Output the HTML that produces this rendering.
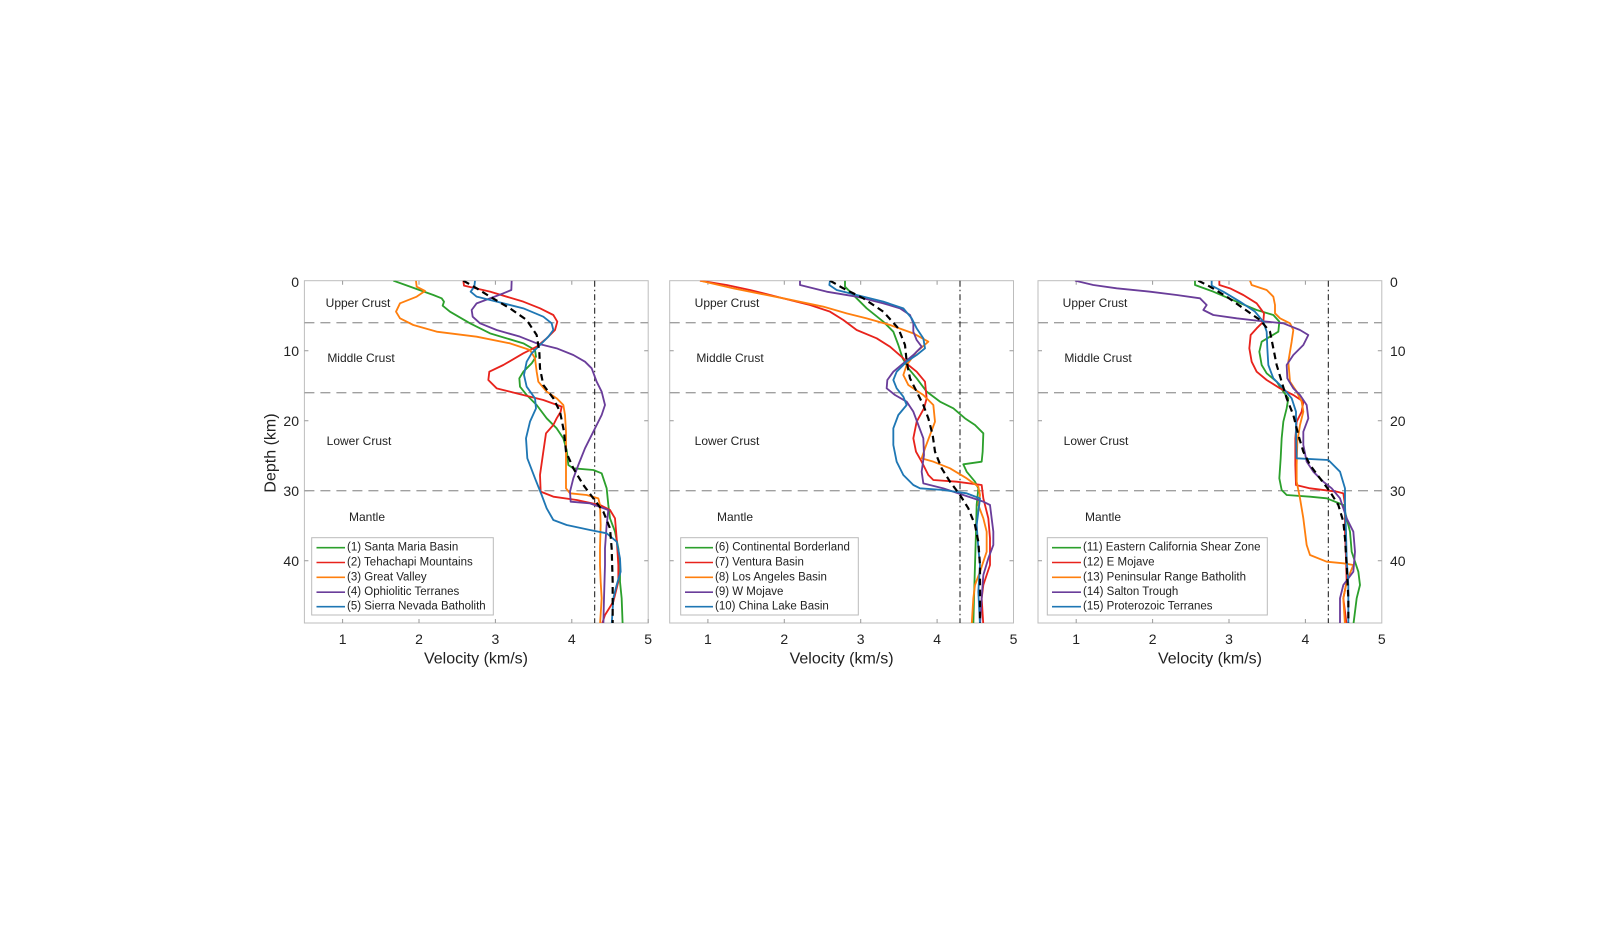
<!DOCTYPE html>
<html><head><meta charset="utf-8"><style>
html,body{margin:0;padding:0;background:#fff;}
svg text{font-family:"Liberation Sans",sans-serif;fill:#222;}
</style></head><body>
<svg width="1600" height="938" viewBox="0 0 1600 938" xmlns="http://www.w3.org/2000/svg">
<defs>
<clipPath id="c1"><rect x="304.4" y="280.7" width="343.8" height="342.3"/></clipPath>
<clipPath id="c2"><rect x="669.7" y="280.7" width="343.8" height="342.3"/></clipPath>
<clipPath id="c3"><rect x="1038" y="280.7" width="343.8" height="342.3"/></clipPath>
</defs>

<g fill="none" stroke="#bdbdbd" stroke-width="1">
<rect x="304.4" y="280.7" width="343.8" height="342.3"/>
<rect x="669.7" y="280.7" width="343.8" height="342.3"/>
<rect x="1038" y="280.7" width="343.8" height="342.3"/>
</g>
<g stroke="#999" stroke-width="1">
<path d="M342.6,623v-4M419,623v-4M495.4,623v-4M571.8,623v-4M648.2,623v-4M342.6,280.7v4M419,280.7v4M495.4,280.7v4M571.8,280.7v4
M304.4,350.7h4M304.4,420.7h4M304.4,490.7h4M304.4,560.7h4M648.2,350.7h-4M648.2,420.7h-4M648.2,490.7h-4M648.2,560.7h-4"/>
<path transform="translate(365.3,0)" d="M342.6,623v-4M419,623v-4M495.4,623v-4M571.8,623v-4M342.6,280.7v4M419,280.7v4M495.4,280.7v4M571.8,280.7v4
M304.4,350.7h4M304.4,420.7h4M304.4,490.7h4M304.4,560.7h4M648.2,350.7h-4M648.2,420.7h-4M648.2,490.7h-4M648.2,560.7h-4"/>
<path transform="translate(733.6,0)" d="M342.6,623v-4M419,623v-4M495.4,623v-4M571.8,623v-4M342.6,280.7v4M419,280.7v4M495.4,280.7v4M571.8,280.7v4
M304.4,350.7h4M304.4,420.7h4M304.4,490.7h4M304.4,560.7h4M648.2,350.7h-4M648.2,420.7h-4M648.2,490.7h-4M648.2,560.7h-4"/>
</g>

<g stroke="#a0a0a0" stroke-width="1.3" stroke-dasharray="10,6" fill="none">
<path d="M304.4,322.7h343.8M304.4,392.7h343.8M304.4,490.7h343.8"/>
<path d="M669.7,322.7h343.8M669.7,392.7h343.8M669.7,490.7h343.8"/>
<path d="M1038,322.7h343.8M1038,392.7h343.8M1038,490.7h343.8"/>
</g>
<g stroke="#111" stroke-width="1" stroke-dasharray="6,3,1.5,3" fill="none">
<path d="M594.7,280.7V623M960,280.7V623M1328.3,280.7V623"/>
</g>

<g clip-path="url(#c1)"><g transform="translate(290,265) scale(0.33333)" fill="none" stroke-width="5.5" stroke-linejoin="round">
<polyline stroke="#2ca02c" points="310,47 360,65 430,90 455,100 462,110 458,122 480,140 540,175 600,205 700,235 735,255 738,275 725,295 700,320 688,340 690,365 710,390 740,420 770,460 800,490 820,520 830,555 835,600 850,610 910,615 935,625 950,670 955,720 960,760 975,800 985,850 990,900 990,950 995,1000 998,1080"/>
<polyline stroke="#e8231c" points="520,47 522,62 600,80 700,110 750,130 790,150 802,170 795,195 770,220 740,245 700,265 640,300 598,320 595,345 620,370 680,385 760,405 815,425 812,440 800,460 790,480 768,505 760,560 750,630 752,680 790,695 860,705 930,720 960,735 975,760 980,820 985,900 985,950 970,1010 945,1050 935,1080"/>
<polyline stroke="#ff7f0e" points="378,47 380,65 405,78 380,95 330,115 318,140 330,160 370,180 440,200 560,215 660,235 720,255 735,280 740,320 745,350 770,380 800,400 820,420 825,450 828,500 828,560 828,600 828,670 840,685 890,690 925,700 930,720 932,780 930,850 930,900 932,950 935,1000 930,1080"/>
<polyline stroke="#6a3d9a" points="665,47 664,75 640,85 560,115 545,135 548,155 570,175 620,195 690,215 740,235 800,250 850,270 885,290 905,310 920,350 935,380 945,420 935,450 910,500 885,550 865,600 850,640 840,680 842,710 900,715 955,735 950,780 945,850 945,900 942,1000 940,1080"/>
<polyline stroke="#1f77b4" points="555,47 553,65 542,80 560,95 620,110 700,130 760,155 785,175 790,195 775,215 750,240 725,265 710,290 702,330 710,365 735,400 738,430 720,470 708,520 712,580 735,640 755,690 770,730 790,765 830,780 900,795 950,805 980,830 990,880 992,920 980,960 970,1000 965,1080"/>
<polyline stroke="#000" stroke-width="6.5" stroke-dasharray="20,13" points="520,47 560,70 600,95 660,130 710,165 740,210 748,260 750,310 760,360 790,400 810,440 822,500 828,560 850,610 880,660 910,700 940,740 960,790 965,850 968,950 968,1080"/>
</g></g>

<g clip-path="url(#c2)"><g transform="translate(650,265) scale(0.33333)" fill="none" stroke-width="5.5" stroke-linejoin="round">
<polyline stroke="#2ca02c" points="585,47 585,65 620,100 650,130 700,170 730,200 745,240 758,280 775,310 800,340 830,380 870,410 910,430 945,460 975,480 1000,505 998,560 995,590 940,598 950,620 975,650 985,670 980,720 978,800 975,900 972,1000 970,1080"/>
<polyline stroke="#e8231c" points="150,47 230,60 300,75 400,100 480,120 540,140 580,165 620,195 680,220 720,245 760,280 775,300 800,320 825,350 830,400 822,430 800,470 790,520 798,560 815,590 835,630 850,645 920,650 995,660 1000,700 1015,760 1020,820 1020,900 1000,960 995,1000 1000,1080"/>
<polyline stroke="#ff7f0e" points="150,47 250,70 400,100 520,125 590,145 650,160 720,180 790,205 835,230 800,260 770,300 760,330 775,360 820,390 850,420 855,470 840,510 825,550 815,580 850,590 900,610 950,640 985,665 990,690 985,720 1000,760 1010,800 1010,860 990,920 975,960 970,1000 965,1080"/>
<polyline stroke="#6a3d9a" points="450,47 450,60 530,80 620,95 700,115 750,130 780,150 790,175 790,200 800,225 815,245 790,270 760,295 730,320 712,345 710,370 735,390 770,410 790,440 805,480 820,520 822,570 815,620 820,655 880,670 940,690 1000,710 1020,720 1025,760 1030,800 1030,840 1015,880 1000,930 995,1000 990,1080"/>
<polyline stroke="#1f77b4" points="540,47 538,60 560,75 620,90 700,110 760,130 785,160 800,190 820,220 825,250 800,270 770,290 740,320 730,345 740,370 760,395 770,420 745,450 730,490 730,540 740,590 760,630 790,660 810,670 880,675 950,685 990,700 985,740 980,780 985,850 990,900 985,980 990,1080"/>
<polyline stroke="#000" stroke-width="6.5" stroke-dasharray="20,13" points="540,47 580,70 640,100 700,140 745,190 765,240 770,290 780,340 800,380 820,420 835,460 848,510 855,560 875,610 900,650 930,690 955,730 975,780 985,830 990,900 990,1080"/>
</g></g>

<g clip-path="url(#c3)"><g transform="translate(1010,265) scale(0.33333)" fill="none" stroke-width="5.5" stroke-linejoin="round">
<polyline stroke="#2ca02c" points="555,47 555,60 610,80 680,110 740,135 790,150 808,170 805,200 780,215 755,230 748,260 755,300 770,325 800,350 820,380 835,400 830,430 820,470 815,520 812,580 808,640 815,675 830,690 900,695 950,700 1000,720 1010,760 1020,800 1025,860 1045,920 1050,960 1040,1000 1030,1080"/>
<polyline stroke="#e8231c" points="628,47 628,60 660,70 700,90 740,115 762,145 760,170 740,190 722,210 718,250 725,290 740,320 770,345 810,370 850,390 880,410 875,440 860,470 856,520 856,600 858,660 900,670 980,680 1000,685 1005,720 1005,800 1008,880 1010,950 1000,1000 1010,1080"/>
<polyline stroke="#ff7f0e" points="720,47 725,60 770,75 790,95 795,120 795,145 810,160 840,175 850,195 845,230 835,290 840,350 860,380 875,410 880,440 870,480 862,530 860,600 860,650 870,700 880,760 890,840 900,870 950,890 1000,895 1030,900 1010,950 1000,1000 1005,1080"/>
<polyline stroke="#6a3d9a" points="195,47 250,60 320,70 420,80 500,90 570,100 590,120 580,135 610,150 680,160 750,168 820,175 870,195 895,210 880,240 850,270 830,300 832,340 850,370 870,390 890,420 895,460 880,500 880,540 890,590 910,620 940,650 965,670 990,700 1010,760 1030,800 1035,860 1030,920 1000,960 990,1000 990,1080"/>
<polyline stroke="#1f77b4" points="605,47 605,62 640,80 690,110 735,140 760,170 770,200 772,250 775,300 790,340 820,370 845,400 858,440 858,500 860,580 955,585 990,620 1005,670 1005,720 1008,800 1010,880 1015,960 1015,1080"/>
<polyline stroke="#000" stroke-width="6.5" stroke-dasharray="20,13" points="565,47 600,65 650,95 700,130 750,165 780,200 790,250 800,300 815,350 830,400 850,450 865,510 880,560 900,600 930,640 960,680 985,720 1000,770 1005,820 1010,900 1015,1000 1015,1080"/>
</g></g>

<g font-size="12" text-anchor="middle" dominant-baseline="central">
<text x="358" y="303">Upper Crust</text><text x="361" y="358">Middle Crust</text><text x="359" y="441">Lower Crust</text><text x="367" y="517">Mantle</text>
<text x="727" y="303">Upper Crust</text><text x="730" y="358">Middle Crust</text><text x="727" y="441">Lower Crust</text><text x="735" y="517">Mantle</text>
<text x="1095" y="303">Upper Crust</text><text x="1098" y="358">Middle Crust</text><text x="1096" y="441">Lower Crust</text><text x="1103" y="517">Mantle</text>
</g>

<g font-size="11.5" dominant-baseline="central">
<rect x="311.7" y="537.7" width="181.6" height="77.3" fill="#fff" stroke="#bbb"/>
<g stroke-width="1.6">
<line x1="316.5" x2="345" y1="547.7" y2="547.7" stroke="#2ca02c"/><line x1="316.5" x2="345" y1="562.5" y2="562.5" stroke="#e8231c"/><line x1="316.5" x2="345" y1="577.3" y2="577.3" stroke="#ff7f0e"/><line x1="316.5" x2="345" y1="592.2" y2="592.2" stroke="#6a3d9a"/><line x1="316.5" x2="345" y1="606.7" y2="606.7" stroke="#1f77b4"/>
</g>
<text x="347" y="547.7">(1) Santa Maria Basin</text><text x="347" y="562.5">(2) Tehachapi Mountains</text><text x="347" y="577.3">(3) Great Valley</text><text x="347" y="592.2">(4) Ophiolitic Terranes</text><text x="347" y="606.7">(5) Sierra Nevada Batholith</text>

<rect x="680.7" y="537.7" width="177.6" height="77.3" fill="#fff" stroke="#bbb"/>
<g stroke-width="1.6">
<line x1="685" x2="713" y1="547.7" y2="547.7" stroke="#2ca02c"/><line x1="685" x2="713" y1="562.5" y2="562.5" stroke="#e8231c"/><line x1="685" x2="713" y1="577.3" y2="577.3" stroke="#ff7f0e"/><line x1="685" x2="713" y1="592.2" y2="592.2" stroke="#6a3d9a"/><line x1="685" x2="713" y1="606.7" y2="606.7" stroke="#1f77b4"/>
</g>
<text x="715" y="547.7">(6) Continental Borderland</text><text x="715" y="562.5">(7) Ventura Basin</text><text x="715" y="577.3">(8) Los Angeles Basin</text><text x="715" y="592.2">(9) W Mojave</text><text x="715" y="606.7">(10) China Lake Basin</text>

<rect x="1047.3" y="537.7" width="220" height="77.3" fill="#fff" stroke="#bbb"/>
<g stroke-width="1.6">
<line x1="1052" x2="1081" y1="547.7" y2="547.7" stroke="#2ca02c"/><line x1="1052" x2="1081" y1="562.5" y2="562.5" stroke="#e8231c"/><line x1="1052" x2="1081" y1="577.3" y2="577.3" stroke="#ff7f0e"/><line x1="1052" x2="1081" y1="592.2" y2="592.2" stroke="#6a3d9a"/><line x1="1052" x2="1081" y1="606.7" y2="606.7" stroke="#1f77b4"/>
</g>
<text x="1083" y="547.7">(11) Eastern California Shear Zone</text><text x="1083" y="562.5">(12) E Mojave</text><text x="1083" y="577.3">(13) Peninsular Range Batholith</text><text x="1083" y="592.2">(14) Salton Trough</text><text x="1083" y="606.7">(15) Proterozoic Terranes</text>
</g>

<g font-size="14" text-anchor="middle" dominant-baseline="central">
<text x="342.6" y="639">1</text><text x="419" y="639">2</text><text x="495.4" y="639">3</text><text x="571.8" y="639">4</text><text x="648.2" y="639">5</text>
<text x="707.9" y="639">1</text><text x="784.3" y="639">2</text><text x="860.7" y="639">3</text><text x="937.1" y="639">4</text><text x="1013.5" y="639">5</text>
<text x="1076.2" y="639">1</text><text x="1152.6" y="639">2</text><text x="1229" y="639">3</text><text x="1305.4" y="639">4</text><text x="1381.8" y="639">5</text>
</g>
<g font-size="14" text-anchor="end" dominant-baseline="central">
<text x="299" y="282">0</text><text x="299" y="351">10</text><text x="299" y="421">20</text><text x="299" y="491">30</text><text x="299" y="561">40</text>
</g>
<g font-size="14" text-anchor="start" dominant-baseline="central">
<text x="1390" y="282">0</text><text x="1390" y="351">10</text><text x="1390" y="421">20</text><text x="1390" y="491">30</text><text x="1390" y="561">40</text>
</g>
<g font-size="16" text-anchor="middle" dominant-baseline="central">
<text x="476" y="659">Velocity (km/s)</text><text x="841.6" y="659">Velocity (km/s)</text><text x="1210" y="659">Velocity (km/s)</text>
<text transform="translate(271,453) rotate(-90)">Depth (km)</text>
</g>
</svg>
</body></html>
